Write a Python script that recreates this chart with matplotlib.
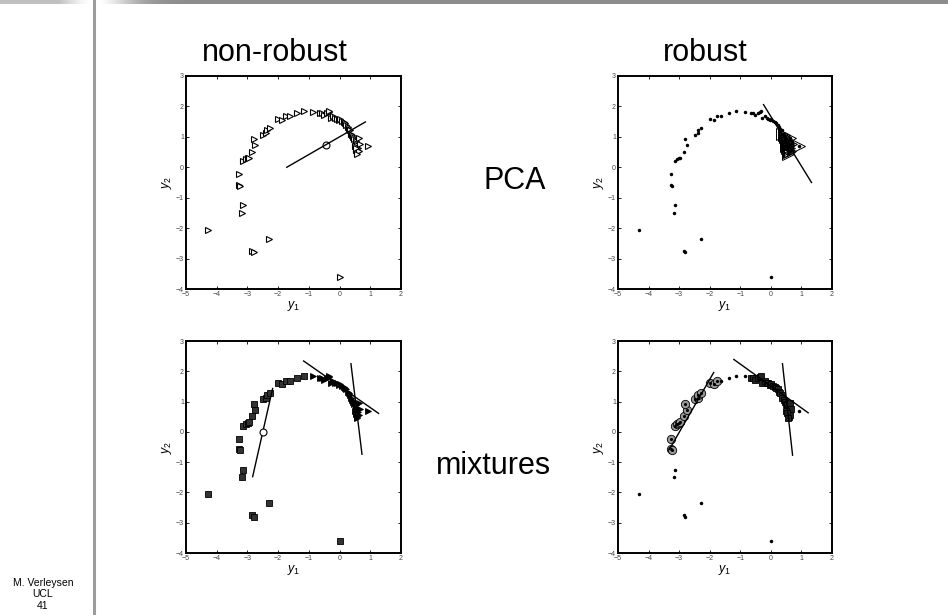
import numpy as np
import matplotlib.pyplot as plt
from matplotlib.lines import Line2D

plt.rcParams['font.family'] = ['Liberation Sans', 'DejaVu Sans']
plt.rcParams['mathtext.fontset'] = 'custom'
plt.rcParams['mathtext.it'] = 'Liberation Sans:italic'
plt.rcParams['mathtext.rm'] = 'Liberation Sans'

# jeu de données (y1, y2)
y1 = [-4.30, -2.85, -2.80, -2.30, 0.00, -3.18, -3.13, -3.27, -3.25, -3.26,
      -3.13, -3.06, -2.99, -2.96, -2.85, -2.75, -2.80, -2.49, -2.38, -2.37,
      -2.27, -1.99, -1.86, -1.76, -1.63, -1.37, -1.15, -0.85,
      -0.65, -0.58, -0.52, -0.42, -0.36, -0.33, -0.29, -0.20, -0.14, -0.09,
      -0.03, 0.02, 0.08, 0.13, 0.18, 0.22, 0.27, 0.31, 0.35,
      0.38, 0.42, 0.45, 0.48, 0.52, 0.55, 0.58, 0.60, 0.55, 0.58,
      0.62, 0.65, 0.63, 0.50, 0.53, 0.57, 0.92]
y2 = [-2.05, -2.75, -2.80, -2.35, -3.60, -1.50, -1.25, -0.58, -0.61, -0.22,
      0.20, 0.26, 0.29, 0.31, 0.51, 0.73, 0.92, 1.07, 1.12, 1.22,
      1.28, 1.60, 1.57, 1.68, 1.68, 1.79, 1.85, 1.83,
      1.79, 1.77, 1.72, 1.77, 1.82, 1.85, 1.62, 1.68, 1.62, 1.60,
      1.55, 1.58, 1.52, 1.49, 1.44, 1.40, 1.33, 1.27, 1.22,
      1.11, 1.05, 1.00, 0.93, 0.88, 0.80, 0.72, 0.65, 0.58, 0.50,
      0.55, 0.75, 0.95, 0.70, 0.62, 0.45, 0.70]

# groupes : mélange non robuste (s = carré, t = triangle)
mix_nr = ['s'] * 27 + ['t'] * 37
# mélange robuste (d = point, c = cercle, s = carré)
mix_r = ['d'] * 7 + ['c'] * 17 + ['d'] * 4 + ['s'] * 35 + ['d']
# sous-ensemble retenu par l'ACP robuste
core = [False] * 47 + [True] * 17

# axes principaux et centres
pca_line_x = [-1.72, 0.84]
pca_line_y = [0.00, 1.49]
pca_center = (-0.43, 0.74)
rpca_line_x = [-0.24, 1.33]
rpca_line_y = [2.06, -0.50]
mix_nr_lines = [([-2.83, -2.18], [-1.48, 1.43]),
                ([-1.17, 1.27], [2.34, 0.61]),
                ([0.37, 0.73], [2.25, -0.74])]
mix_nr_center = (-2.50, -0.02)
mix_r_lines = [([-3.32, -1.87], [-0.58, 1.96]),
               ([-1.21, 1.22], [2.39, 0.63]),
               ([0.38, 0.71], [2.25, -0.77])]

y1 = np.array(y1)
y2 = np.array(y2)
mix_nr = np.array(mix_nr)
mix_r = np.array(mix_r)
core = np.array(core)

fig = plt.figure(figsize=(9.48, 6.15), dpi=100)

W, H = 948, 615


def make_ax(left, top, right, bottom):
    ax = fig.add_axes([left / W, 1 - bottom / H, (right - left) / W, (bottom - top) / H])
    ax.set_xlim(-5, 2)
    ax.set_ylim(-4, 3)
    ax.set_xticks(range(-5, 3))
    ax.set_yticks(range(-4, 4))
    ax.set_xticklabels([str(v).replace('-', '\u2212') for v in range(-5, 3)])
    ax.set_yticklabels([str(v).replace('-', '\u2212') for v in range(-4, 4)])
    ax.tick_params(direction='in', length=2.5, width=0.6, labelsize=5,
                   labelcolor='#444444', top=True, right=True, pad=1.5)
    for s in ax.spines.values():
        s.set_linewidth(1.4)
    ax.set_xlabel('$y_1$', fontsize=9, labelpad=1)
    ax.set_ylabel('$y_2$', fontsize=9, labelpad=1)
    return ax


ax1 = make_ax(186, 76, 401, 289)
ax2 = make_ax(618, 76, 832, 289)
ax3 = make_ax(186, 341, 401, 553)
ax4 = make_ax(618, 341, 832, 553)

# ACP classique
ax1.plot(y1, y2, '>', ms=4.5, mfc='white', mec='black', mew=0.8, ls='none')
ax1.plot(pca_line_x, pca_line_y, color='black', lw=1)
ax1.plot(*pca_center, 'o', ms=5, mfc='none', mec='black', mew=0.8)

# ACP robuste
ax2.plot(y1, y2, '.', ms=3, color='black', ls='none')
ax2.plot(y1[core], y2[core], '>', ms=8, mfc='none', mec='black', mew=0.7, ls='none')
ax2.plot(rpca_line_x, rpca_line_y, color='black', lw=1)

# mélange non robuste
m = mix_nr == 's'
ax3.plot(y1[m], y2[m], 's', ms=4, mfc='#333333', mec='black', mew=0.6, ls='none')
m = mix_nr == 't'
ax3.plot(y1[m], y2[m], '>', ms=4.5, mfc='black', mec='black', mew=0.6, ls='none')
for lx, ly in mix_nr_lines:
    ax3.plot(lx, ly, color='black', lw=1)
ax3.plot(*mix_nr_center, 'o', ms=5, mfc='white', mec='black', mew=0.8)

# mélange robuste
m = mix_r == 'c'
ax4.plot(y1[m], y2[m], 'o', ms=6, mfc='#9a9a9a', mec='black', mew=0.6, ls='none')
ax4.plot(y1[m], y2[m], '.', ms=2.5, color='black', ls='none')
m = mix_r == 's'
ax4.plot(y1[m], y2[m], 's', ms=4, mfc='#222222', mec='black', mew=0.6, ls='none')
m = mix_r == 'd'
ax4.plot(y1[m], y2[m], '.', ms=3, color='black', ls='none')
for lx, ly in mix_r_lines:
    ax4.plot(lx, ly, color='black', lw=1)

# titres
fig.text(275 / W, 1 - 53 / H, 'non-robust', fontsize=22, ha='center', va='center')
fig.text(705 / W, 1 - 53 / H, 'robust', fontsize=22, ha='center', va='center')
fig.text(515 / W, 1 - 181 / H, 'PCA', fontsize=22, ha='center', va='center')
fig.text(494 / W, 1 - 466 / H, 'mixtures', fontsize=22, ha='center', va='center')

# pied de page
for txt, yy in [('M. Verleysen', 583), ('UCL', 594), ('41', 606)]:
    fig.text(43 / W, 1 - yy / H, txt, fontsize=7.5, ha='center', va='center')

# bandeau et filet vertical de la diapo
fig.add_artist(Line2D([94 / W, 94 / W], [0, 1], color='#9c9c9c', lw=2.2,
                      transform=fig.transFigure))
band = fig.add_axes([0, 1 - 4 / H, 1, 4 / H])
xs = np.arange(W)
shade = 0.55 + 0.45 * np.exp(-((xs - 94) / 40.0) ** 2)
shade[:94] = np.maximum(shade[:94], 0.75)
band.imshow(np.tile(shade, (2, 1)), cmap='gray', vmin=0, vmax=1, aspect='auto')
band.axis('off')

fig.savefig('out.png', dpi=100)
